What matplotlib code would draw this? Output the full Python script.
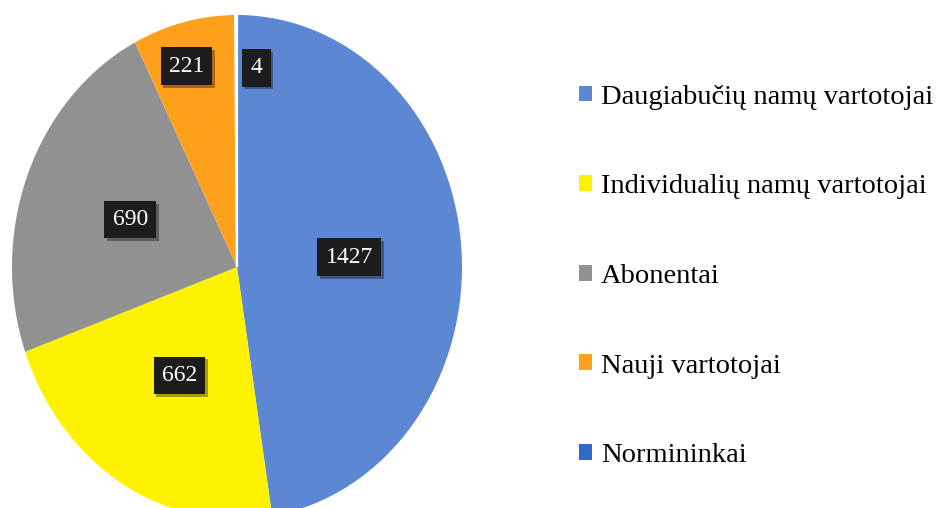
import numpy as np
import matplotlib
matplotlib.use("Agg")
import matplotlib.pyplot as plt
import matplotlib.patheffects as pe

categories = ["Daugiabučių namų vartotojai", "Individualių namų vartotojai",
              "Abonentai", "Nauji vartotojai", "Normininkai"]
values = [1427, 662, 690, 221, 4]
colors = ["#5b87d3", "#fff200", "#919191", "#ffa11c", "#2e6bc9"]

# label placement (radius in pie units, extra x shift)
label_r = [0.5, 0.5, 0.51, 0.82, 0.79]
label_dx = [0.0, 0.0, 0.0, -0.03, 0.09]

W, H = 942, 508
fig = plt.figure(figsize=(W / 100, H / 100), dpi=100)
fig.patch.set_facecolor("white")

# pie is slightly stretched vertically in the scan
cx, cy, rx, ry = 237, 267, 225, 252
ax = fig.add_axes([(cx - rx) / W, (H - cy - ry) / H, 2 * rx / W, 2 * ry / H])
wedges, _ = ax.pie(values, colors=colors, startangle=90, counterclock=False,
                   wedgeprops=dict(linewidth=0))
wedges[-1].set_edgecolor("white")
wedges[-1].set_linewidth(1.6)
ax.set_aspect("auto")
ax.set_xlim(-1, 1)
ax.set_ylim(-1, 1)
ax.axis("off")

shadow = [pe.withSimplePatchShadow(offset=(2, -2), shadow_rgbFace="black", alpha=0.35)]
for w, v, r, dx in zip(wedges, values, label_r, label_dx):
    mid = np.deg2rad((w.theta1 + w.theta2) / 2)
    t = ax.text(r * np.cos(mid) + dx, r * np.sin(mid), str(v),
                ha="center", va="center", color="white", fontsize=17,
                family="Liberation Serif",
                bbox=dict(boxstyle="square,pad=0.35", fc="#1c1c1c", ec="none"))
    t.get_bbox_patch().set_path_effects(shadow)

leg = fig.legend(wedges, categories, loc="upper left",
                 bbox_to_anchor=(553 / W, 1 - 59 / H), frameon=False,
                 prop=dict(family="Liberation Serif", size=20.5),
                 handlelength=0.48, handleheight=0.48, handletextpad=0.3,
                 labelspacing=2.27)
for h in leg.legend_handles:
    h.set_linewidth(0)

fig.savefig("out.png", dpi=100, facecolor="white")
